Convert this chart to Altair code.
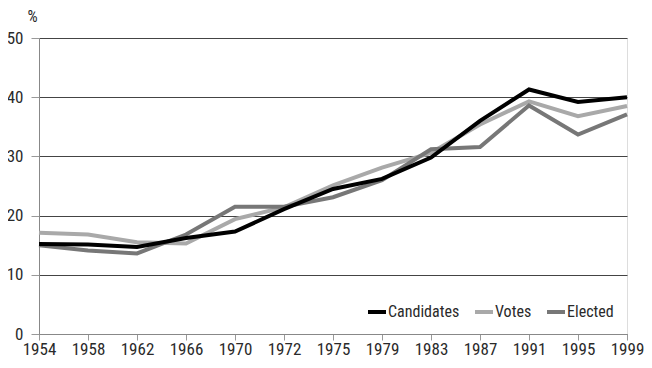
import altair as alt
import pandas as pd

years = ["1954", "1958", "1962", "1966", "1970", "1972", "1975", "1979", "1983", "1987", "1991", "1995", "1999"]
candidates = [15.2, 15.1, 14.7, 16.2, 17.3, 21.1, 24.5, 26.2, 29.8, 36.0, 41.3, 39.2, 40.0]
votes = [17.1, 16.8, 15.5, 15.3, 19.4, 21.4, 25.1, 28.1, 30.6, 35.4, 39.3, 36.8, 38.5]
elected = [15.0, 14.1, 13.6, 16.8, 21.5, 21.5, 23.1, 26.0, 31.2, 31.6, 38.6, 33.7, 37.1]

series_names = ["Candidates", "Votes", "Elected"]
series_colors = ["#000000", "#a9a9a9", "#777777"]

rows = []
for name, vals in zip(series_names, [candidates, votes, elected]):
    for y, v in zip(years, vals):
        rows.append({"year": y, "value": v, "series": name})
df = pd.DataFrame(rows)

FONT = "Roboto Condensed"
TXT = "#2a2a2a"

x = alt.X("year:O", sort=years, scale=alt.Scale(padding=0),
          axis=alt.Axis(title=None, labelAngle=0, labelFontSize=17, labelFont=FONT,
                        labelColor=TXT, tickSize=6, tickColor="#999", domainColor="#888",
                        labelPadding=1, grid=False))
y = alt.Y("value:Q", scale=alt.Scale(domain=[0, 50]),
          axis=alt.Axis(values=[0, 10, 20, 30, 40, 50], title="%", titleAngle=0,
                        titleX=-12, titleY=-17, titleAlign="left", titleBaseline="alphabetic",
                        titleFont=FONT, titleFontSize=16, titleFontWeight="normal", titleColor=TXT,
                        labelFontSize=17, labelFont=FONT, labelColor=TXT,
                        tickSize=8, tickColor="#999", domainColor="#888",
                        gridColor="#444", gridWidth=1, labelPadding=8))
color = alt.Color("series:N", scale=alt.Scale(domain=series_names, range=series_colors),
                  legend=alt.Legend(title=None, orient="none", legendX=327, legendY=263,
                                    direction="horizontal", symbolType="stroke",
                                    symbolStrokeWidth=4, symbolSize=324, padding=0,
                                    labelFontSize=16, labelFont=FONT, labelColor=TXT,
                                    columnPadding=7, labelOffset=0))

layers = []
for name in ["Votes", "Elected", "Candidates"]:
    layers.append(
        alt.Chart(df).transform_filter(alt.datum.series == name)
        .mark_line(strokeWidth=4, strokeJoin="miter")
        .encode(x=x, y=y, color=color)
    )

chart = alt.layer(*layers).properties(
    width=588, height=296,
    autosize=alt.AutoSizeParams(type="none"),
    padding={"left": 31, "top": 30, "right": 17, "bottom": 24},
).configure_view(stroke="#555", strokeWidth=1).configure(background="white")

chart.save("out.html", embed_options={"renderer": "svg", "actions": False})
